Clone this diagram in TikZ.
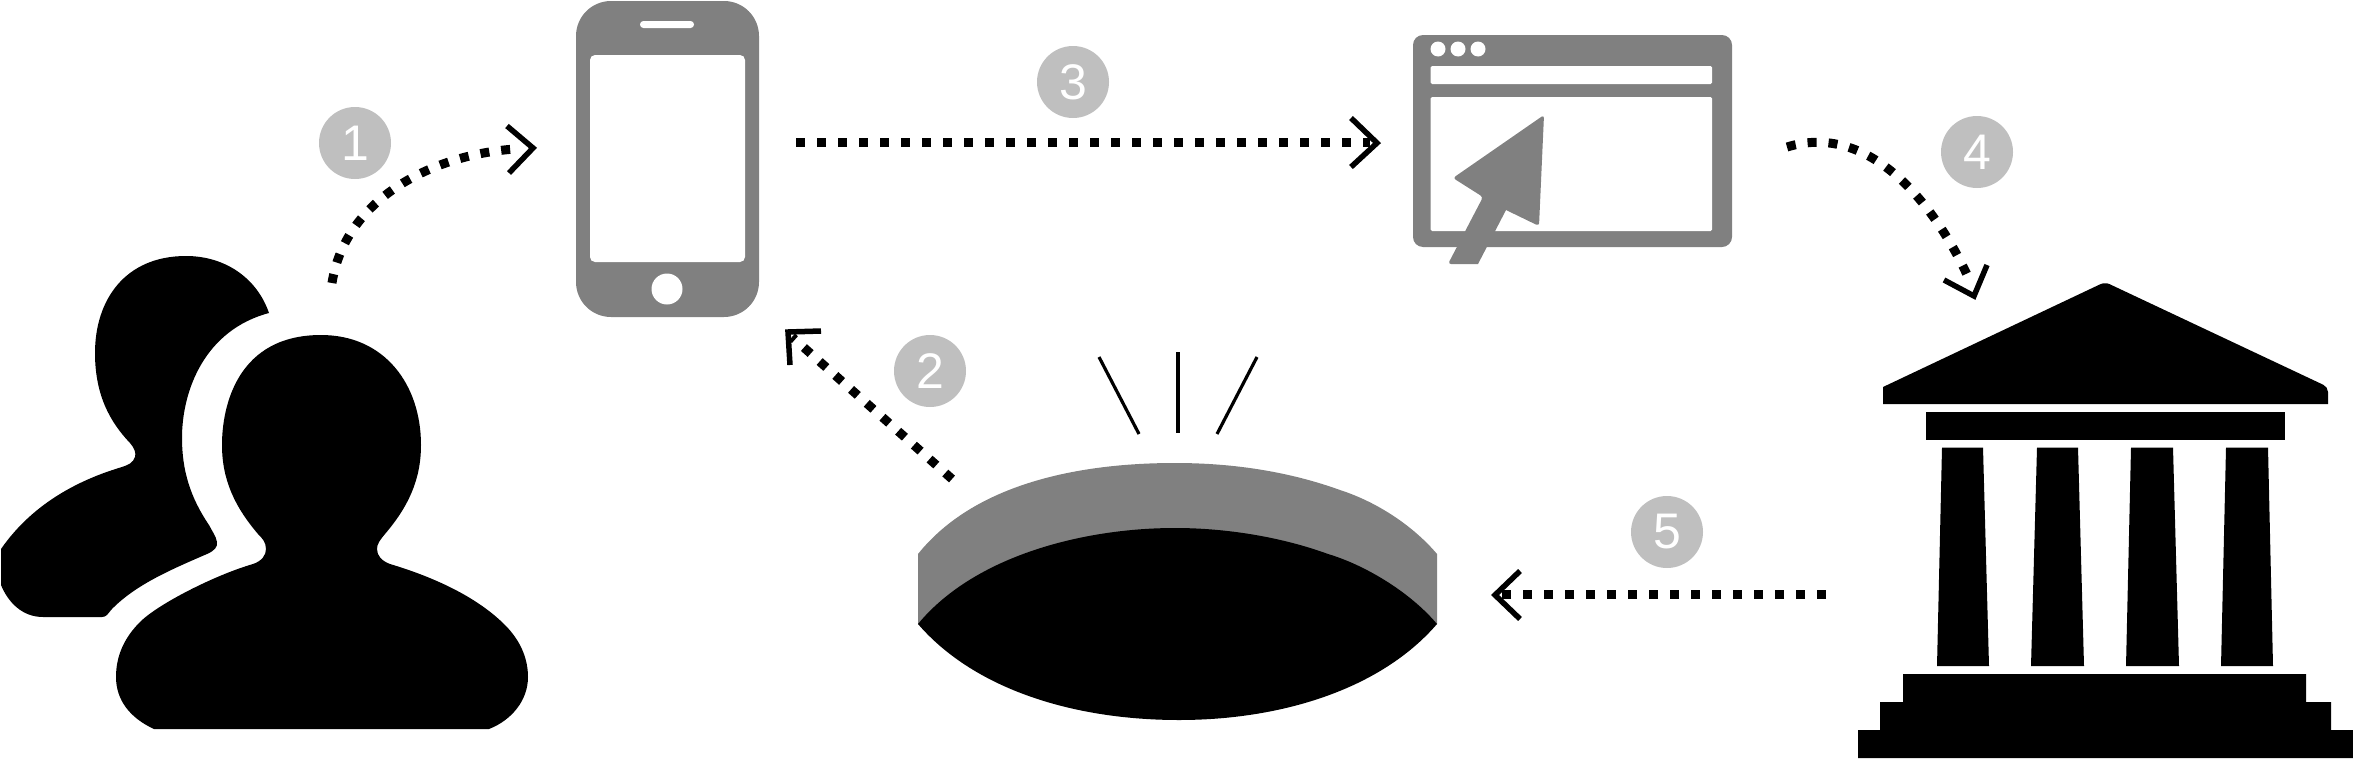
\documentclass[tikz,border=0pt]{standalone}
\usepackage{fontspec}
\setmainfont{Liberation Sans}
\definecolor{icongrey}{HTML}{808080}
\definecolor{badgegrey}{HTML}{BFBFBF}
\tikzset{
  badge/.style={circle,fill=badgegrey,minimum size=72pt,inner sep=0pt,text=white,font=\fontsize{50}{50}\selectfont},
  dotline/.style={line width=9pt,dash pattern=on 9pt off 12pt},
  headline/.style={line width=5.5pt,miter limit=10},
  grey/.style={fill=icongrey,draw=none},
  hole/.style={fill=white,draw=none},
  blk/.style={fill=black,draw=none},
  ray/.style={line width=3.2pt}
}
\begin{document}
\begin{tikzpicture}[x=1pt,y=-1pt]
\useasboundingbox (0,0) rectangle (2353,758);
% people
\fill[black] (269,313) .. controls (257,278) and (225,256) .. (186,256)
 .. controls (125,256) and (95,300) .. (95,353)
 .. controls (95,395) and (110,422) .. (130,443)
 .. controls (135,449) and (136,453) .. (135,457)
 .. controls (133,463) and (128,465) .. (122,467)
 .. controls (85,478) and (35,500) .. (1,549)
 -- (1,585)
 .. controls (8,602) and (22,617) .. (43,617)
 -- (102,617)
 .. controls (106,617) and (108,614) .. (111,610)
 .. controls (135,585) and (170,570) .. (207,554)
 .. controls (214,551) and (218,547) .. (217,542)
 .. controls (216,536) and (212,531) .. (209,525)
 .. controls (190,497) and (182,470) .. (182,438)
 .. controls (182,390) and (205,330) .. (269,313) -- cycle;
\fill[black] (154,729) .. controls (130,718) and (116,700) .. (116,677)
 .. controls (116,655) and (125,637) .. (140,622)
 .. controls (158,604) and (215,575) .. (253,564)
 .. controls (262,561) and (266,555) .. (266,549)
 .. controls (266,542) and (262,538) .. (258,534)
 .. controls (235,507) and (222,480) .. (222,445)
 .. controls (222,405) and (238,335) .. (321,335)
 .. controls (385,335) and (421,385) .. (421,445)
 .. controls (421,480) and (408,507) .. (385,534)
 .. controls (380,540) and (377,544) .. (377,549)
 .. controls (377,556) and (382,561) .. (390,564)
 .. controls (430,576) and (475,595) .. (505,625)
 .. controls (520,640) and (528,658) .. (528,677)
 .. controls (528,700) and (512,720) .. (489,729) -- cycle;
% phone
\fill[grey,rounded corners=35pt] (576,1) rectangle (759,317);
\fill[hole,rounded corners=5pt] (590,55) rectangle (745,262);
\fill[hole,rounded corners=3.4pt] (640,21) rectangle (694,28);
\fill[hole] (667,289) circle (15.5);
% browser
\fill[grey,rounded corners=10pt] (1413,35) rectangle (1732,247);
\fill[hole,rounded corners=1.5pt] (1430.5,66) rectangle (1712,84);
\fill[hole,rounded corners=1.5pt] (1430.5,97) rectangle (1712,231);
\foreach \dx in {1438,1458,1478} \fill[hole] (\dx,49) circle (7.5);
\fill[grey,rounded corners=3pt] (1544,115) -- (1453,178) -- (1483,197) -- (1448,264) [sharp corners] -- (1478,264) -- (1506,210) [rounded corners=3pt] -- (1539,226) -- cycle;
% eye
\fill[icongrey] (918,554) .. controls (975,483) and (1080,463) .. (1175,463)
 .. controls (1235,463) and (1290,472) .. (1340,490)
 .. controls (1380,503) and (1415,528) .. (1437,554)
 -- (1437,624) -- (918,624) -- cycle;
\fill[black] (918,624) .. controls (975,555) and (1085,528) .. (1175,528)
 .. controls (1235,528) and (1290,540) .. (1328,554)
 .. controls (1365,565) and (1410,592) .. (1437,624)
 .. controls (1380,690) and (1280,720) .. (1179,720)
 .. controls (1075,720) and (975,690) .. (918,624) -- cycle;
\draw[ray] (1099,357) -- (1139,434);
\draw[ray] (1178,352) -- (1178,433);
\draw[ray] (1257,357) -- (1217,434);
% temple
\fill[blk,rounded corners=4pt] (1883,404) [sharp corners] -- (1883,387) [rounded corners=5pt] -- (2105,282) -- (2328,387) [sharp corners] -- (2328,404) -- cycle;
\fill[blk] (1926,412) rectangle (2285,440);
\fill[blk] (1942,447.5) -- (1983,447.5) -- (1989,666) -- (1937,666) -- cycle;
\fill[blk] (2037,447.5) -- (2078,447.5) -- (2084,666) -- (2031,666) -- cycle;
\fill[blk] (2131,447.5) -- (2173,447.5) -- (2179,666) -- (2126,666) -- cycle;
\fill[blk] (2226,447.5) -- (2268,447.5) -- (2273,666) -- (2221,666) -- cycle;
\fill[blk] (1903,674) -- (2306,674) -- (2306,702) -- (2331,702) -- (2331,730) -- (2353,730) -- (2353,758) -- (1858,758) -- (1858,730) -- (1880,730) -- (1880,702) -- (1903,702) -- cycle;
% badges
\node[badge] (b1) at (355,143) {1};
\node[badge] (b2) at (930,371) {2};
\node[badge] (b3) at (1073,82) {3};
\node[badge] (b4) at (1977,152) {4};
\node[badge] (b5) at (1667,532) {5};
% connector end points
\coordinate (a1s) at (332,283); \coordinate (a1e) at (515,149);
\coordinate (a2s) at (952,479); \coordinate (a2e) at (792,337);
\coordinate (a3s) at (796,142); \coordinate (a3e) at (1370,142);
\coordinate (a4s) at (1787,147); \coordinate (a4e) at (1969,279);
\coordinate (a5s) at (1826,594); \coordinate (a5e) at (1502,594);
% connectors
\draw[dotline] (a1s) .. controls (345,200) and (430,155) .. (a1e);
\draw[dotline] (a2s) -- (a2e);
\draw[dotline] (a3s) -- (a3e);
\draw[dotline] (a4s) .. controls (1875,120) and (1940,215) .. (a4e);
\draw[dotline] (a5s) -- (a5e);
% arrowheads
\draw[headline] (507,126) -- (533,148) -- (509,173);
\draw[headline] (821,331) -- (788,332) -- (790,365);
\draw[headline] (1351,118) -- (1377,143) -- (1351,167);
\draw[headline] (1987,265) -- (1974,296) -- (1944,280);
\draw[headline] (1520,571) -- (1495,595) -- (1520,619);
\end{tikzpicture}
\end{document}
